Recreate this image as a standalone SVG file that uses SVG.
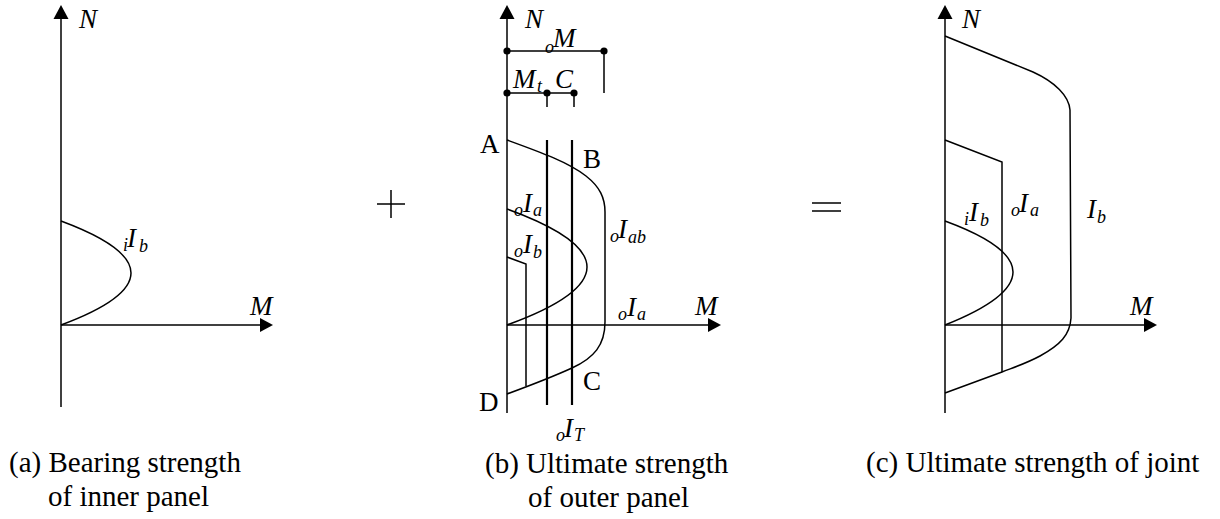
<svg xmlns="http://www.w3.org/2000/svg" width="1220" height="519" viewBox="0 0 1220 519">
<style>
.ln{fill:none;stroke:#000;stroke-width:1.5}
.th{fill:none;stroke:#000;stroke-width:2.2}
.ah{fill:#000;stroke:none}
.dot{fill:#000}
text{font-family:"Liberation Serif","Times New Roman",Times,"Nimbus Roman","DejaVu Serif",serif;fill:#000}
.it{font-style:italic;font-size:27px}
.sub{font-size:18px}
.rm{font-size:27px}
.cap{font-size:29px}
</style>
<defs>
<path id="up" class="ah" d="M0,0 L-7.5,14 L7.5,14 Z"/>
<path id="right" class="ah" d="M0,0 L-13,-7 L-13,7 Z"/>
</defs>
<g id="connectors">
<line class="ln" x1="61" y1="14" x2="61" y2="407"/>
<use href="#up" x="61" y="5"/>
<line class="ln" x1="61" y1="325" x2="262" y2="325"/>
<use href="#right" x="273" y="325"/>
<line class="ln" x1="507" y1="14" x2="507" y2="413"/>
<use href="#up" x="507" y="5"/>
<line class="ln" x1="507" y1="325" x2="710" y2="325"/>
<use href="#right" x="721" y="325"/>
<line class="ln" x1="945" y1="14" x2="945" y2="413"/>
<use href="#up" x="945" y="5"/>
<line class="ln" x1="945" y1="325" x2="1146" y2="325"/>
<use href="#right" x="1157" y="325"/>
</g>
<g id="panel-a">
<path class="ln" d="M61,221 Q201,273 61,325"/>
<text class="it"><tspan class="sub" x="123" y="251">i</tspan><tspan x="127" y="247">I</tspan><tspan class="sub" x="139" y="252">b</tspan></text>
<text class="it" x="79" y="28">N</text>
<text class="it" x="250" y="315">M</text>
</g>
<g id="panel-b">
<text class="it" x="525" y="28">N</text>
<path class="ln" d="M507,51 L604,51 L604,93"/>
<path class="ln" d="M507,93 L574,93 M547,93 L547,107 M574,93 L574,107"/>
<circle class="dot" cx="507" cy="51" r="3.6"/>
<circle class="dot" cx="604" cy="51" r="3.6"/>
<circle class="dot" cx="507" cy="93" r="3.6"/>
<circle class="dot" cx="547" cy="93" r="3.6"/>
<circle class="dot" cx="574" cy="93" r="3.6"/>
<text class="it"><tspan class="sub" x="545" y="53">o</tspan><tspan x="553" y="47">M</tspan></text>
<text class="it"><tspan x="513" y="88">M</tspan><tspan class="sub" x="537" y="92">t</tspan></text>
<text class="it" x="555" y="88">C</text>
<path class="ln" d="M507,140 C540,152 568,162 586,176 C600,187 605,198 605,212 L605,322 C605,345 594,358 572,368 C550,378 526,387 507,394"/>
<path class="ln" d="M507,209 Q667,267 507,325"/>
<path class="ln" d="M507,257 L526,264 L526,386"/>
<line class="th" x1="547" y1="140" x2="547" y2="405"/>
<line class="th" x1="572" y1="140" x2="572" y2="405"/>
<text class="rm" x="480" y="153">A</text>
<text class="rm" x="583" y="168">B</text>
<text class="rm" x="583" y="390">C</text>
<text class="rm" x="479" y="411">D</text>
<text class="it"><tspan class="sub" x="514" y="216">o</tspan><tspan x="523" y="212">I</tspan><tspan class="sub" x="533" y="216">a</tspan></text>
<text class="it"><tspan class="sub" x="514" y="257">o</tspan><tspan x="523" y="253">I</tspan><tspan class="sub" x="533" y="258">b</tspan></text>
<text class="it"><tspan class="sub" x="610" y="242">o</tspan><tspan x="618" y="238">I</tspan><tspan class="sub" x="628" y="243">ab</tspan></text>
<text class="it"><tspan class="sub" x="618" y="320">o</tspan><tspan x="627" y="316">I</tspan><tspan class="sub" x="637" y="320">a</tspan></text>
<text class="it" x="695" y="315">M</text>
<text class="it"><tspan class="sub" x="556" y="441">o</tspan><tspan x="564" y="437">I</tspan><tspan class="sub" x="574" y="441">T</tspan></text>
</g>
<g id="plus">
<path class="ln" d="M377,204 L405,204 M391,190 L391,218"/>
</g>
<g id="equals">
<path class="ln" d="M812,203 L841,203 M812,211 L841,211"/>
</g>
<g id="panel-c">
<text class="it" x="962" y="28">N</text>
<path class="ln" d="M945,36 L1033,72 C1055,82 1069,96 1070,110 L1071,318 C1070,335 1060,345 1040,356 C1025,364 1012,368 1002,372 L945,393"/>
<path class="ln" d="M945,140 L1002,162 L1002,372"/>
<path class="ln" d="M945,221 Q1081,271 945,325"/>
<text class="it"><tspan class="sub" x="964" y="225">i</tspan><tspan x="969" y="221">I</tspan><tspan class="sub" x="980" y="226">b</tspan></text>
<text class="it"><tspan class="sub" x="1011" y="216">o</tspan><tspan x="1019" y="212">I</tspan><tspan class="sub" x="1030" y="216">a</tspan></text>
<text class="it"><tspan x="1087" y="218">I</tspan><tspan class="sub" x="1097" y="223">b</tspan></text>
<text class="it" x="1130" y="315">M</text>
</g>
<g id="captions">
<text class="cap" x="9" y="472">(a) Bearing strength</text>
<text class="cap" x="48" y="506">of inner panel</text>
<text class="cap" x="485" y="473">(b) Ultimate strength</text>
<text class="cap" x="528" y="507">of outer panel</text>
<text class="cap" x="866" y="472">(c) Ultimate strength of joint</text>
</g>
</svg>
